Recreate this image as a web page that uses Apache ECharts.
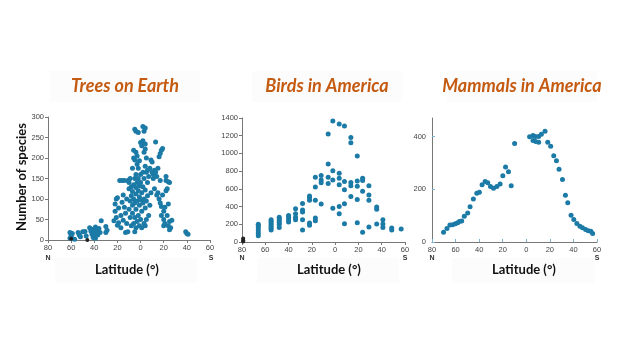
<!DOCTYPE html>
<html>
<head>
<meta charset="utf-8">
<script src="https://cdn.jsdelivr.net/npm/echarts@6/dist/echarts.min.js"></script>
<style>
  html, body { margin: 0; background: #fff; }
  #chart { width: 630px; height: 354px; }
</style>
</head>
<body>
<div id="chart"></div>
<script>
// latitude in degrees, north positive, south negative
const treePoints = [
  [61,4],[60,9],[60,13],[59,16],[61,18],[57,2],
  [54,18],[53,12],[52,8],[50,20],[48,21],[47,10],
  [44,30],[43,22],[42,14],[41,26],[40,20],[40,10],[39,32],[38,16],[38,25],[37,12],[37,20],[36,28],[35,18],[34,47],[41,6],[39,4],
  [30,33],[30,18],[29,24],
  [23,47],[22,70],[22,88],[21,100],[21,55],[20,103],[20,36],[19,42],[19,78],[18,145],[17,60],[17,30],[16,145],[16,92],[15,110],[15,48],[14,80],[14,145],[13,65],[13,18],[12,40],[12,100],[11,20],[11,145],
  [10,75],[10,125],[10,140],[9,55],[9,95],[9,150],[8,35],[8,108],[8,130],[7,65],[7,85],[7,118],[7,175],[6,40],[6,100],[6,135],[6,200],[6,219],
  [5,20],[5,55],[5,90],[5,150],[5,195],[5,270],[4,30],[4,75],[4,112],[4,128],[4,160],[4,214],[4,265],[3,45],[3,95],[3,140],[3,185],[3,205],
  [2,60],[2,120],[2,150],[2,175],[2,262],[1,35],[1,85],[1,105],[1,132],[1,193],[0,50],[0,98],[0,140],[0,160],[0,238],
  [-1,30],[-1,70],[-1,115],[-1,230],[-2,90],[-2,130],[-2,165],[-2,242],[-2,277],[-3,40],[-3,100],[-3,150],[-3,214],[-3,265],
  [-4,35],[-4,78],[-4,122],[-4,180],[-4,222],[-4,234],[-4,273],[-5,50],[-5,95],[-5,165],[-5,200],[-6,108],[-6,140],[-6,170],
  [-7,60],[-7,155],[-8,85],[-8,175],[-9,115],[-9,195],[-10,165],[-10,190],
  [-11,150],[-11,160],[-12,125],[-12,170],[-13,165],[-13,239],[-14,110],[-14,155],[-15,175],[-15,115],[-16,100],[-16,203],
  [-17,90],[-17,145],[-17,211],[-18,60],[-18,82],[-18,219],[-19,223],[-19,110],[-20,35],[-20,50],[-20,70],[-21,80],[-21,40],
  [-22,120],[-22,155],[-22,145],[-23,125],[-23,60],[-24,35],[-24,142],[-24,88],[-25,25],[-25,45],[-25,140],[-26,30],[-27,48],
  [-39,20],[-40,16],[-41,14]
];
const treeDark = [[60,3],[46,0]];

const birdPoints = [
  [66,200],[66,185],[66,160],[66,130],[66,100],[66,70],
  [55,250],[55,235],[55,215],[55,195],[55,175],[55,155],[55,135],
  [48,280],[48,260],[48,240],[48,220],[48,200],[48,165],
  [40,300],[40,280],[40,250],[40,225],
  [34,375],[34,320],[34,280],[34,250],
  [28,435],[28,360],[28,340],[28,250],[28,135],
  [22,520],[22,500],[22,470],[22,215],[22,190],
  [17,730],[17,620],[17,470],[17,270],[17,240],
  [12,750],[12,700],[12,670],[12,430],
  [6,1220],[6,880],[6,730],[6,660],
  [2,1365],[2,805],[2,700],[2,382],
  [-3.5,1331],[-3.5,776],[-3.5,720],[-3.5,645],[-3.5,401],[-3.5,319],
  [-8,1309],[-8,682],[-8,589],[-8,431],[-8,206],
  [-13.5,1181],[-13.5,1121],[-13.5,671],[-13.5,634],[-13.5,514],
  [-19,971],[-19,690],[-19,630],[-19,480],[-19,217],
  [-23.6,720],[-23.6,694],[-23.6,574],[-23.6,109],
  [-29,634],[-29,532],[-29,472],[-29,169],
  [-35.7,394],[-35.7,371],[-35.7,202],
  [-41,251],[-41,202],[-41,165],
  [-48.6,158],[-48.6,135],
  [-56.7,146]
];
const birdDark = [[79,40],[79,20],[79,5]];

const mammalPoints = [
  [70.2,37],[67.3,51],[64.8,64],[62.5,65],[60.2,69],[58.2,73],[56.8,78],[54.8,80],[52.6,98],[49.7,110],
  [47.7,134],[44.9,163],[42,185],[39.8,189],[37.5,217],[34.9,229],[32.7,225],[30.4,210],[27.8,204],[25,210],
  [22.2,220],[19.9,251],[17.6,284],[15.1,266],[12.8,213],[9.9,373],
  [-2.8,399],[-5.7,404],[-7.7,400],[-10.5,400],[-12.8,408],[-15.9,420],[-5.7,385],[-8,381],[-10.5,378],
  [-18.2,378],[-20.7,363],[-23.3,327],[-25.6,308],[-27.8,276],[-30.7,237],[-33.2,177],[-35.2,149],
  [-38,101],[-40.3,85],[-42.9,70],[-45.5,60],[-47.7,54],[-50.3,47],[-52.6,43],[-54.8,41],[-56.3,32]
];

const titles = ['Trees on Earth', 'Birds in America', 'Mammals in America'];
const mammalYTicks = [0, 200, 400];

const dotColor = '#1b7aa6';
const axisGray = '#777';
const labelStyle = { fontSize: 7.5, color: '#444', fontFamily: 'Liberation Sans', margin: 4 };

// pixel layout of the three panels
const panels = [
  { left: 48, right: 420, top: 117, bottom: 114, ymax: 300, yint: 50, cx: 125, nx: 48, sx: 211 },
  { left: 242, right: 225, top: 118, bottom: 112, ymax: 1400, yint: 200, cx: 327, nx: 242, sx: 405 },
  { left: 432, right: 33, top: 118, bottom: 112, ymax: 470, yint: 200, cx: 522, nx: 432, sx: 597 }
];

function xAxisFor(i) {
  const inside = i === 2;
  return {
    type: 'value', gridIndex: i, min: -60, max: 80, interval: 20, inverse: true,
    splitLine: { show: false },
    axisLine: { onZero: false, lineStyle: { color: axisGray, width: 1 } },
    axisTick: inside ? { inside: true, length: 3, lineStyle: { color: '#7fb3d0' } }
                     : { length: 3, lineStyle: { color: axisGray } },
    axisLabel: Object.assign({}, labelStyle, { formatter: v => String(Math.abs(v)) })
  };
}

function yAxisFor(i) {
  const p = panels[i];
  const ax = {
    type: 'value', gridIndex: i, min: 0, max: p.ymax, interval: p.yint, position: 'left',
    splitLine: { show: false },
    axisLine: { show: true, onZero: false, lineStyle: { color: axisGray, width: 1 } },
    axisTick: { show: true, length: 3, lineStyle: { color: axisGray } },
    axisLabel: Object.assign({}, labelStyle, { formatter: v => String(v) })
  };
  if (i === 2) {
    ax.axisTick = { show: true, inside: true, length: 3, customValues: mammalYTicks, lineStyle: { color: '#7fb3d0' } };
    ax.axisLabel = Object.assign({}, labelStyle, { customValues: mammalYTicks, margin: 6, formatter: v => String(v) });
  }
  return ax;
}

function scatter(i, data, color, size) {
  return {
    type: 'scatter', xAxisIndex: i, yAxisIndex: i, data: data,
    symbolSize: size, itemStyle: { color: color, opacity: 1 }, silent: true, animation: false
  };
}

const graphics = [];
panels.forEach((p, i) => {
  // faint backdrops behind title and axis caption
  graphics.push({ type: 'rect', z: -1, shape: { x: p.cx - 75, y: 71, width: 150, height: 31 }, style: { fill: '#fcfcfc' } });
  graphics.push({ type: 'rect', z: -1, shape: { x: p.cx - 70, y: 258, width: 142, height: 25 }, style: { fill: '#fcfcfc' } });
  graphics.push({
    type: 'text', x: p.cx, y: 86,
    style: { text: titles[i], fill: '#c55a11', font: 'italic bold 18px Lato', textAlign: 'center', textVerticalAlign: 'middle' }
  });
  graphics.push({
    type: 'text', x: p.cx + 2, y: 270,
    style: { text: 'Latitude (°)', fill: '#111', font: 'bold 13px Lato', textAlign: 'center', textVerticalAlign: 'middle' }
  });
  graphics.push({ type: 'text', x: p.nx, y: 258, style: { text: 'N', fill: '#333', font: 'bold 7px Liberation Sans', textAlign: 'center', textVerticalAlign: 'middle' } });
  graphics.push({ type: 'text', x: p.sx, y: 258, style: { text: 'S', fill: '#333', font: 'bold 7px Liberation Sans', textAlign: 'center', textVerticalAlign: 'middle' } });
});
graphics.push({
  type: 'text', x: 22, y: 177, rotation: Math.PI / 2,
  style: { text: 'Number of species', fill: '#111', font: 'bold 13px Lato', textAlign: 'center', textVerticalAlign: 'middle' }
});

const chart = echarts.init(document.getElementById('chart'));
chart.setOption({
  backgroundColor: '#fff',
  animation: false,
  grid: panels.map(p => ({ left: p.left, right: p.right, top: p.top, bottom: p.bottom, containLabel: false })),
  xAxis: [0, 1, 2].map(xAxisFor),
  yAxis: [0, 1, 2].map(yAxisFor),
  series: [
    scatter(0, treePoints, dotColor, 5),
    scatter(0, treeDark, '#222', 4),
    scatter(1, birdPoints, dotColor, 5),
    scatter(1, birdDark, '#222', 4),
    scatter(2, mammalPoints, dotColor, 5)
  ],
  graphic: graphics
});
</script>
</body>
</html>
